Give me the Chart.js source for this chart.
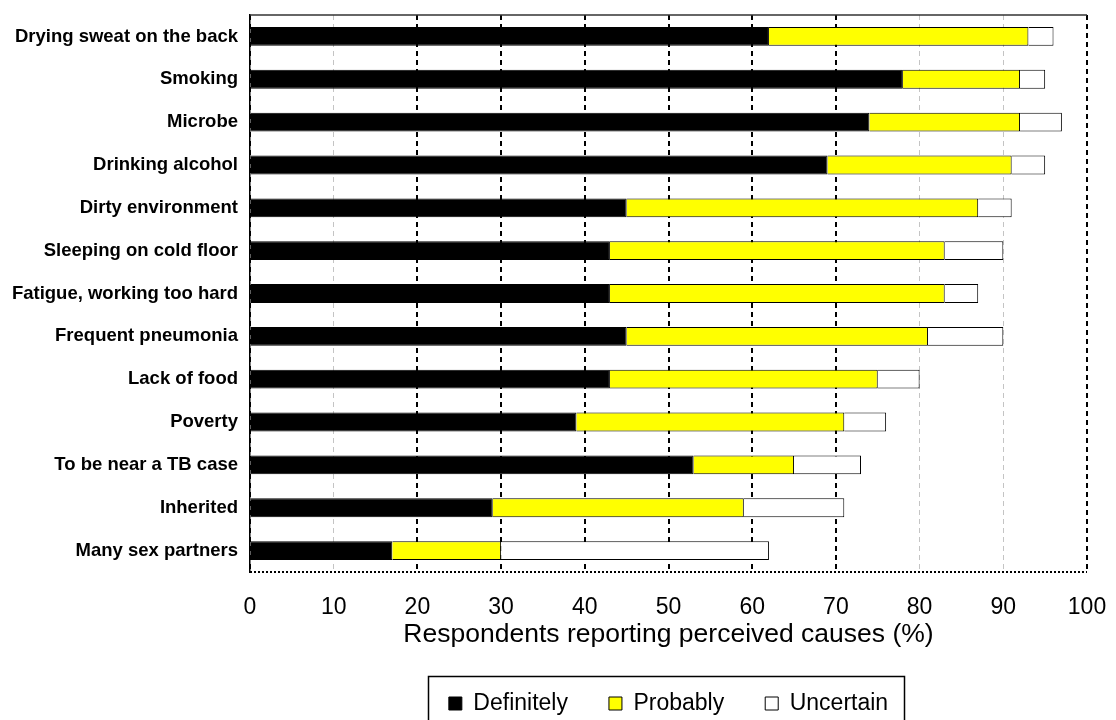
<!DOCTYPE html>
<html><head><meta charset="utf-8">
<script src="https://cdn.jsdelivr.net/npm/chart.js@4/dist/chart.umd.min.js"></script>
<style>html,body{margin:0;padding:0;background:#fff}#wrap{width:1116px;height:720px}</style>
</head><body><div id="wrap"><canvas id="c" width="1116" height="720"></canvas></div>
<script>
const categories = ['Drying sweat on the back','Smoking','Microbe','Drinking alcohol','Dirty environment','Sleeping on cold floor','Fatigue, working too hard','Frequent pneumonia','Lack of food','Poverty','To be near a TB case','Inherited','Many sex partners'];
const definitely = [62,78,74,69,45,43,43,45,43,39,53,29,17];
const probably   = [31,14,18,22,42,40,40,36,32,32,12,30,13];
const uncertain  = [3,3,5,4,4,7,4,9,5,5,8,12,32];
const seriesNames = ['Definitely','Probably','Uncertain'];
const xMin = 0, xMax = 100, xStep = 10;
const xTitle = 'Respondents reporting perceived causes (%)';

const FONT = "'Liberation Sans', Arial, sans-serif";

const framePlugin = {
  id: 'frame',
  afterDraw(chart) {
    const {ctx, chartArea: a} = chart;
    ctx.save();
    // top border
    ctx.strokeStyle = '#333'; ctx.lineWidth = 1.5; ctx.setLineDash([]);
    ctx.beginPath(); ctx.moveTo(a.left, a.top); ctx.lineTo(a.right, a.top); ctx.stroke();
    // bottom border dotted
    ctx.strokeStyle = '#000'; ctx.lineWidth = 2; ctx.setLineDash([2,2]);
    ctx.beginPath(); ctx.moveTo(a.left, a.bottom); ctx.lineTo(a.right, a.bottom); ctx.stroke();
    // legend frame
    const lg = chart.legend;
    if (lg && lg.legendHitBoxes && lg.legendHitBoxes.length) {
      const hb = lg.legendHitBoxes;
      const l = hb[0].left - 21;
      const last = hb[hb.length - 1];
      const r = last.left + last.width + 16;
      const t = hb[0].top - 16;
      ctx.setLineDash([]); ctx.lineWidth = 1.5; ctx.strokeStyle = '#000';
      ctx.strokeRect(Math.round(l) + 0.5, Math.round(t) + 0.5, Math.round(r - l), 80);
    }
    ctx.restore();
  }
};

new Chart(document.getElementById('c'), {
  type: 'bar',
  data: {
    labels: categories,
    datasets: [
      {label: seriesNames[0], data: definitely, backgroundColor: '#000000', borderColor: '#000000', borderWidth: 1},
      {label: seriesNames[1], data: probably, backgroundColor: '#FFFF00', borderColor: '#000000', borderWidth: 1},
      {label: seriesNames[2], data: uncertain, backgroundColor: '#FFFFFF', borderColor: '#000000', borderWidth: 1}
    ]
  },
  options: {
    indexAxis: 'y',
    responsive: false,
    animation: false,
    devicePixelRatio: 1,
    layout: {padding: {top: 15, right: 29, left: 0, bottom: -5}},
    datasets: {bar: {categoryPercentage: 1, barPercentage: 0.44}},
    plugins: {
      tooltip: {enabled: false},
      legend: {
        position: 'bottom',
        fullSize: false,
        labels: {boxWidth: 13, boxHeight: 13, padding: 41, color: '#000', font: {family: FONT, size: 23}}
      }
    },
    scales: {
      x: {
        stacked: true,
        min: xMin, max: xMax,
        afterFit: s => { s.height = 79; s.paddingLeft = 0; s.paddingRight = 0; },
        ticks: {stepSize: xStep, color: '#000', padding: 22, font: {family: FONT, size: 23}, maxRotation: 0},
        grid: {
          drawTicks: false,
          color: c => { const v = c.tick ? c.tick.value : 0; return (v === 0 || (v >= 20 && v <= 70) || v === 100) ? '#000' : '#c4c4c4'; },
          lineWidth: c => { const v = c.tick ? c.tick.value : 0; return ((v >= 20 && v <= 70) || v === 100) ? 2 : 1; }
        },
        border: {display: false, dash: [5, 4]},
        title: {display: true, text: xTitle, color: '#000', font: {family: FONT, size: 26.5}, padding: {top: 0, bottom: 0}}
      },
      y: {
        stacked: true,
        afterFit: s => { s.width = 250; s.paddingTop = 0; s.paddingBottom = 0; },
        ticks: {color: '#000', padding: 12, font: {family: FONT, size: 18.5, weight: 'bold'}},
        grid: {display: false, drawTicks: false},
        border: {display: true, color: '#000', width: 1.5}
      }
    }
  },
  plugins: [framePlugin]
});
</script></body></html>
